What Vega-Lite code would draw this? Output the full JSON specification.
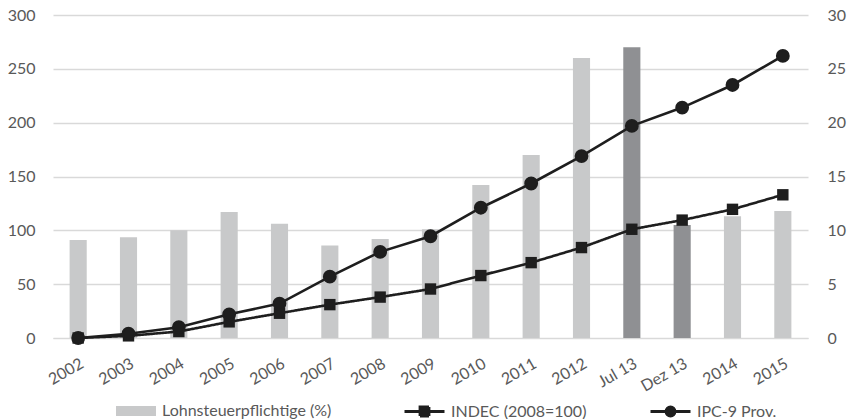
{
  "$schema": "https://vega.github.io/schema/vega-lite/v6.json",
  "width": 755,
  "height": 323,
  "autosize": "none",
  "padding": {"left": 53, "top": 15, "right": 42, "bottom": 81},
  "background": "white",
  "config": {
    "view": {"stroke": null},
    "axis": {"labelFont": "Lato", "labelFontSize": 16, "labelColor": "#595959", "ticks": false, "domain": false, "title": null},
    "axisX": {"labelAngle": -30},
    "legend": {"labelFont": "Lato", "labelFontSize": 16, "labelColor": "#595959", "labelOffset": 5, "labelLimit": 400, "title": null, "orient": "none", "symbolSize": 1600, "symbolOpacity": 1}
  },
  "data": {
    "values": [
      {"period": "2002", "lohn": 9.1, "indec": 0, "ipc": 0},
      {"period": "2003", "lohn": 9.35, "indec": 2, "ipc": 4},
      {"period": "2004", "lohn": 10.0, "indec": 6, "ipc": 10},
      {"period": "2005", "lohn": 11.7, "indec": 15, "ipc": 22},
      {"period": "2006", "lohn": 10.6, "indec": 23, "ipc": 32},
      {"period": "2007", "lohn": 8.6, "indec": 31, "ipc": 57},
      {"period": "2008", "lohn": 9.2, "indec": 38, "ipc": 80},
      {"period": "2009", "lohn": 10.1, "indec": 45.5, "ipc": 94.5},
      {"period": "2010", "lohn": 14.2, "indec": 58, "ipc": 121},
      {"period": "2011", "lohn": 17.0, "indec": 70, "ipc": 143.5},
      {"period": "2012", "lohn": 26.0, "indec": 84, "ipc": 169},
      {"period": "Jul 13", "lohn": 27.0, "indec": 101, "ipc": 197},
      {"period": "Dez 13", "lohn": 10.5, "indec": 109.5, "ipc": 214},
      {"period": "2014", "lohn": 11.3, "indec": 119.5, "ipc": 235},
      {"period": "2015", "lohn": 11.8, "indec": 133, "ipc": 262}
    ]
  },
  "encoding": {
    "x": {
      "field": "period",
      "type": "ordinal",
      "sort": null,
      "scale": {"paddingInner": 0.66, "paddingOuter": 0.33},
      "axis": {"labelAngle": -30, "labelPadding": 17, "domain": true, "domainColor": "#d9d9d9"}
    }
  },
  "layer": [
    {
      "mark": {"type": "bar"},
      "encoding": {
        "y": {
          "field": "lohn",
          "type": "quantitative",
          "scale": {"domain": [0, 30]},
          "axis": {"orient": "right", "values": [0, 5, 10, 15, 20, 25, 30], "grid": false, "labelPadding": 19}
        },
        "color": {
          "condition": {"test": "datum.period === 'Jul 13' || datum.period === 'Dez 13'", "value": "#8f9093"},
          "datum": "Lohnsteuerpflichtige (%)",
          "scale": {"domain": ["Lohnsteuerpflichtige (%)"], "range": ["#c8c9ca"]},
          "legend": {
            "legendX": 62,
            "legendY": 375,
            "symbolType": "M-1,-0.25H1V0.25H-1Z",
            "encode": {"symbols": {"update": {"fill": {"value": "#c8c9ca"}, "stroke": {"value": "transparent"}, "opacity": {"value": 1}}}}
          }
        }
      }
    },
    {
      "layer": [
        {
          "mark": {"type": "line", "color": "#1e1e1e", "strokeWidth": 2.6, "point": {"shape": "square", "size": 130, "filled": true, "color": "#1e1e1e", "opacity": 1}},
          "encoding": {
            "y": {
              "field": "indec",
              "type": "quantitative",
              "scale": {"domain": [0, 300]},
              "axis": {"orient": "left", "values": [0, 50, 100, 150, 200, 250, 300], "grid": true, "gridColor": "#d9d9d9", "gridWidth": 1.3, "labelPadding": 18}
            },
            "strokeDash": {
              "datum": "INDEC (2008=100)",
              "scale": {"domain": ["INDEC (2008=100)"], "range": [[1, 0]]},
              "legend": {
                "legendX": 350,
                "legendY": 375,
                "symbolType": "M-1,0H1M-0.225,-0.225H0.225V0.225H-0.225Z",
                "symbolStrokeWidth": 2.8,
                "symbolFillColor": "#1e1e1e",
                "symbolStrokeColor": "#1e1e1e",
                "encode": {"symbols": {"update": {"fill": {"value": "#1e1e1e"}, "stroke": {"value": "#1e1e1e"}, "fillOpacity": {"value": 1}, "opacity": {"value": 1}}}}
              }
            }
          }
        },
        {
          "mark": {"type": "line", "strokeWidth": 2.6, "point": {"shape": "circle", "size": 140, "filled": true, "color": "#1e1e1e", "opacity": 1}},
          "encoding": {
            "y": {"field": "ipc", "type": "quantitative"},
            "stroke": {
              "datum": "IPC-9 Prov.",
              "scale": {"domain": ["IPC-9 Prov."], "range": ["#1e1e1e"]},
              "legend": {
                "legendX": 596,
                "legendY": 375,
                "symbolType": "M-1,0H1M0.225,0A0.225,0.225,0,1,1,-0.225,0A0.225,0.225,0,1,1,0.225,0Z",
                "symbolStrokeWidth": 2.8,
                "encode": {"symbols": {"update": {"fill": {"value": "#1e1e1e"}, "stroke": {"value": "#1e1e1e"}, "opacity": {"value": 1}}}}
              }
            }
          }
        }
      ]
    }
  ],
  "resolve": {"scale": {"y": "independent"}}
}
